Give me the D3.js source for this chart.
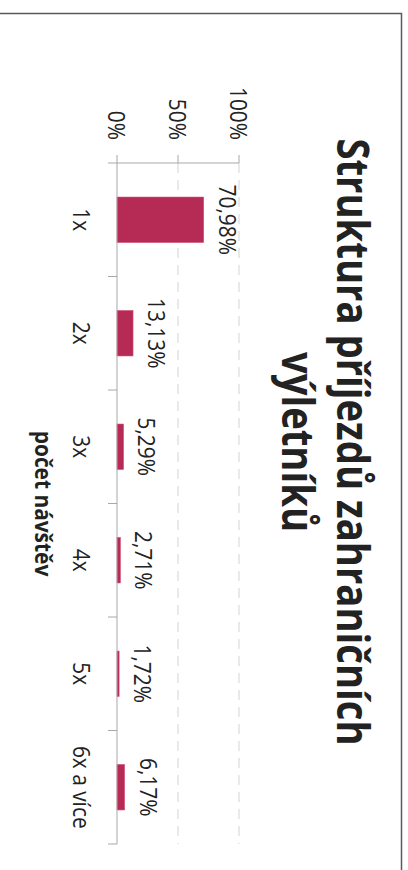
<!DOCTYPE html>
<html><head><meta charset="utf-8">
<script src="https://cdn.jsdelivr.net/npm/d3@7"></script>
<style>body{margin:0;background:#fff}svg{display:block}</style>
</head><body>
<script>
const categories = ["1x", "2x", "3x", "4x", "5x", "6x a více"];
const values = [70.98, 13.13, 5.29, 2.71, 1.72, 6.17];
const valueLabels = ["70,98%", "13,13%", "5,29%", "2,71%", "1,72%", "6,17%"];
const tickValues = [0, 50, 100];
const tickLabels = ["0%", "50%", "100%"];
const titleLines = ["Struktura příjezdů zahraničních", "výletníků"];
const axisTitle = "počet návštěv";

const W = 408, H = 870;
const SX = 0.87; // horizontal squeeze of the original chart's text
const FONT = "'Open Sans', 'Noto Sans', sans-serif";
const svg = d3.select("body").append("svg").attr("width", W).attr("height", H);

// frame border
svg.append("path").attr("d", "M0,13.5H401.5V880")
  .attr("fill", "none").attr("stroke", "#5a5a5a").attr("stroke-width", 1.5);

// chart is drawn in its own frame and rotated 90deg clockwise
const g = svg.append("g").attr("transform", "translate(402,0) rotate(90)");

const x = d3.scaleBand().domain(categories).range([163, 844]).padding(0);
const y = d3.scaleLinear().domain([0, 100]).range([285, 163]);

function txt(parent, px, py, s, size, weight, anchor, baseline) {
  return parent.append("text")
    .attr("transform", `translate(${px},${py}) scale(${SX},1)`)
    .attr("font-family", FONT).attr("font-size", size).attr("font-weight", weight)
    .attr("text-anchor", anchor || "middle")
    .attr("dominant-baseline", baseline || "alphabetic")
    .attr("fill", "#222").text(s);
}

// gridlines
g.selectAll("line.grid").data(tickValues.filter(t => t > 0)).join("line")
  .attr("class", "grid")
  .attr("x1", x.range()[0]).attr("x2", x.range()[1])
  .attr("y1", d => y(d)).attr("y2", d => y(d))
  .attr("stroke", "#e9e9e9").attr("stroke-width", 2).attr("stroke-dasharray", "10,7");

// bars
const bw = x.bandwidth() * 0.4;
g.selectAll("rect.bar").data(values).join("rect")
  .attr("class", "bar")
  .attr("x", (d, i) => x(categories[i]) + (x.bandwidth() - bw) / 2)
  .attr("width", bw)
  .attr("y", d => y(d)).attr("height", d => y(0) - y(d))
  .attr("fill", "#b52b55").attr("stroke", "#c9476e").attr("stroke-width", 0.6);

// category axis
const axisCol = "#a8a8a8";
g.append("line").attr("x1", x.range()[0]).attr("x2", x.range()[1])
  .attr("y1", y(0)).attr("y2", y(0)).attr("stroke", axisCol).attr("stroke-width", 1);
const bounds = categories.map(c => x(c)).concat([x.range()[1]]);
g.selectAll("line.ctick").data(bounds).join("line").attr("class", "ctick")
  .attr("x1", d => d).attr("x2", d => d).attr("y1", y(0)).attr("y2", y(0) + 9)
  .attr("stroke", axisCol).attr("stroke-width", 1);
categories.forEach(c => txt(g, x(c) + x.bandwidth() / 2, 329, c, 24, 400));

// value axis
g.append("line").attr("x1", x.range()[0]).attr("x2", x.range()[0])
  .attr("y1", y(100)).attr("y2", y(0)).attr("stroke", axisCol).attr("stroke-width", 1);
g.selectAll("line.vtick").data(tickValues).join("line").attr("class", "vtick")
  .attr("x1", x.range()[0] - 8).attr("x2", x.range()[0])
  .attr("y1", d => y(d)).attr("y2", d => y(d))
  .attr("stroke", axisCol).attr("stroke-width", 1);
tickValues.forEach((t, i) => txt(g, 140, y(t), tickLabels[i], 24, 400, "end", "central"));

// value labels
values.forEach((v, i) => txt(g, x(categories[i]) + x.bandwidth() / 2, y(v) - 15, valueLabels[i], 24, 400));

// title
txt(g, 442, 65, titleLines[0], 44, 700);
txt(g, 442, 120, titleLines[1], 44, 700);

// axis title
txt(g, 503.5, 367, axisTitle, 24, 700);
</script>
</body></html>
